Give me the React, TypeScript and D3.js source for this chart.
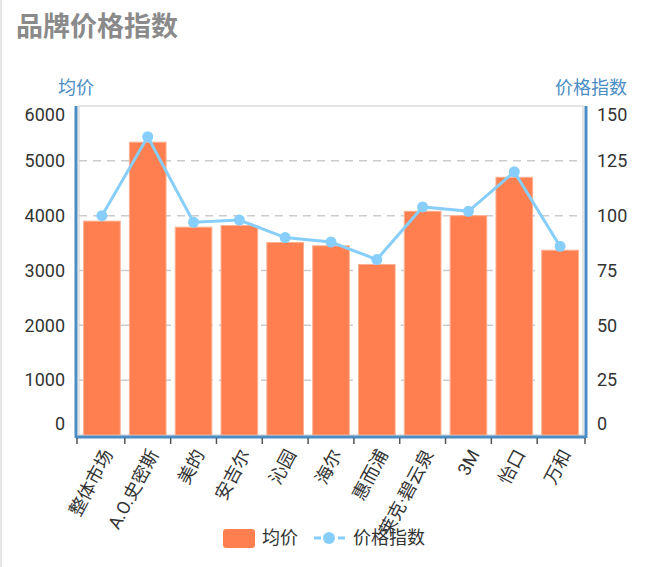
import * as d3 from "d3";
import { useEffect, useRef } from "react";

const brands = ["整体市场", "A.O.史密斯", "美的", "安吉尔", "沁园", "海尔", "惠而浦", "莱克·碧云泉", "3M", "怡口", "万和"];
const avgPrice = [3900, 5340, 3790, 3820, 3510, 3450, 3110, 4080, 4000, 4700, 3370];
const priceIndex = [100, 136, 97, 98, 90, 88, 80, 104, 102, 120, 86];
const leftTicks = [0, 1000, 2000, 3000, 4000, 5000, 6000];
const rightTicks = [0, 25, 50, 75, 100, 125, 150];

const W = 650;
const H = 567;
const plotLeft = 79;
const plotRight = 583;
const plotTop = 106;
const plotBottom = 435;
const axisBlue = "#4a8cc4";
const font = "Roboto, 'Noto Sans CJK SC', sans-serif";

export default function App() {
    const svgRef = useRef<SVGSVGElement>(null);

    useEffect(() => {
        if (svgRef.current) {
            drawChart();
        }
    }, [svgRef]);

    const drawChart = () => {
        const svg = d3.select(svgRef.current);
        svg.selectAll("*").remove();

        const scaleX = d3
            .scaleBand()
            .domain(brands)
            .range([plotLeft, plotRight])
            .paddingInner(0.2)
            .paddingOuter(0.1);
        const scaleY = d3.scaleLinear().domain([0, 6000]).range([plotBottom, plotTop]);
        const scaleY2 = d3.scaleLinear().domain([0, 150]).range([plotBottom, plotTop]);

        // page border on the left
        svg.append("line")
            .attr("x1", 1).attr("x2", 1).attr("y1", 0).attr("y2", H)
            .attr("stroke", "#dddddd").attr("stroke-width", 1.5);

        // title
        svg.append("text")
            .attr("x", 16).attr("y", 36)
            .attr("font-size", 27).attr("font-weight", "bold")
            .attr("fill", "#8a8a8a").attr("font-family", font)
            .text("品牌价格指数");

        // axis names
        svg.append("text")
            .attr("x", 58).attr("y", 94)
            .attr("font-size", 18).attr("fill", axisBlue).attr("font-family", font)
            .text("均价");
        svg.append("text")
            .attr("x", 627).attr("y", 94).attr("text-anchor", "end")
            .attr("font-size", 18).attr("fill", axisBlue).attr("font-family", font)
            .text("价格指数");

        // frame
        svg.append("rect")
            .attr("x", plotLeft).attr("y", plotTop)
            .attr("width", plotRight - plotLeft).attr("height", plotBottom - plotTop)
            .attr("fill", "none").attr("stroke", "#dcdcdc").attr("stroke-width", 1.5);

        // dashed grid
        svg.append("g")
            .selectAll("line")
            .data(leftTicks.filter((t) => t > 0 && t < 6000))
            .join("line")
            .attr("x1", plotLeft).attr("x2", plotRight)
            .attr("y1", (d) => scaleY(d)).attr("y2", (d) => scaleY(d))
            .attr("stroke", "#cccccc").attr("stroke-width", 1.5)
            .attr("stroke-dasharray", "8,6");

        // bars
        svg.append("g")
            .selectAll("rect")
            .data(brands)
            .join("rect")
            .attr("x", (d) => scaleX(d) as number)
            .attr("y", (d, i) => scaleY(avgPrice[i]))
            .attr("width", scaleX.bandwidth())
            .attr("height", (d, i) => plotBottom - scaleY(avgPrice[i]))
            .attr("fill", "#ff7f50")
            .attr("stroke", "#ffb090").attr("stroke-width", 1);

        // line
        const cx = (d: string) => (scaleX(d) as number) + scaleX.bandwidth() / 2;
        const line = d3
            .line<number>()
            .x((d, i) => cx(brands[i]))
            .y((d) => scaleY2(d));
        svg.append("path")
            .datum(priceIndex)
            .attr("d", line)
            .attr("fill", "none").attr("stroke", "#87cefa").attr("stroke-width", 3);
        svg.append("g")
            .selectAll("circle")
            .data(priceIndex)
            .join("circle")
            .attr("cx", (d, i) => cx(brands[i]))
            .attr("cy", (d) => scaleY2(d))
            .attr("r", 5.5)
            .attr("fill", "#87cefa");

        // axis lines
        const axes = svg.append("g").attr("stroke", axisBlue).attr("stroke-width", 3);
        axes.append("line").attr("x1", 76).attr("x2", 76).attr("y1", plotTop).attr("y2", plotBottom + 3);
        axes.append("line").attr("x1", 586).attr("x2", 586).attr("y1", plotTop).attr("y2", plotBottom + 3);
        axes.append("line").attr("x1", 76).attr("x2", 586).attr("y1", plotBottom + 2).attr("y2", plotBottom + 2);

        // bottom ticks at band boundaries
        const gap = (scaleX.step() - scaleX.bandwidth()) / 2;
        const bounds = brands.map((d) => (scaleX(d) as number) - gap);
        bounds.push(plotRight);
        svg.append("g")
            .selectAll("line")
            .data(bounds)
            .join("line")
            .attr("x1", (d, i) => (i === 0 ? 77 : i === bounds.length - 1 ? 585 : d))
            .attr("x2", (d, i) => (i === 0 ? 77 : i === bounds.length - 1 ? 585 : d))
            .attr("y1", plotBottom + 3).attr("y2", plotBottom + 9)
            .attr("stroke", "#555").attr("stroke-width", 1.5);

        // y labels (edge labels kept inside the plot)
        const labelY = (y: number, i: number, n: number) => (i === 0 ? y - 11 : i === n - 1 ? y + 9 : y);
        svg.append("g")
            .selectAll("text")
            .data(leftTicks)
            .join("text")
            .attr("x", 65)
            .attr("y", (d, i) => labelY(scaleY(d), i, leftTicks.length))
            .attr("dy", "0.35em").attr("text-anchor", "end")
            .attr("font-size", 18).attr("fill", "#333").attr("font-family", font)
            .text((d) => `${d}`);
        svg.append("g")
            .selectAll("text")
            .data(rightTicks)
            .join("text")
            .attr("x", 597)
            .attr("y", (d, i) => labelY(scaleY2(d), i, rightTicks.length))
            .attr("dy", "0.35em")
            .attr("font-size", 18).attr("fill", "#333").attr("font-family", font)
            .text((d) => `${d}`);

        // x labels
        svg.append("g")
            .selectAll("text")
            .data(brands)
            .join("text")
            .attr("transform", (d) => `translate(${cx(d) + 6},${plotBottom + 16}) rotate(-62)`)
            .attr("text-anchor", "end").attr("dy", "0.35em")
            .attr("font-size", 18).attr("fill", "#333").attr("font-family", font)
            .text((d) => d);

        // legend
        const legend = svg.append("g").attr("font-family", font).attr("font-size", 18).attr("fill", "#333");
        legend.append("rect")
            .attr("x", 223).attr("y", 529).attr("width", 32).attr("height", 19).attr("rx", 3)
            .attr("fill", "#ff7f50");
        legend.append("text").attr("x", 262).attr("y", 538).attr("dy", "0.35em").text("均价");
        legend.append("line")
            .attr("x1", 314).attr("x2", 345).attr("y1", 538).attr("y2", 538)
            .attr("stroke", "#87cefa").attr("stroke-width", 3).attr("stroke-dasharray", "7,5");
        legend.append("circle").attr("cx", 329).attr("cy", 538).attr("r", 6).attr("fill", "#87cefa");
        legend.append("text").attr("x", 353).attr("y", 538).attr("dy", "0.35em").text("价格指数");
    };

    return (
        <svg
            ref={svgRef}
            width={W}
            height={H}
            style={{ position: "absolute", left: 0, top: 0, background: "#fff" }}
        />
    );
}
